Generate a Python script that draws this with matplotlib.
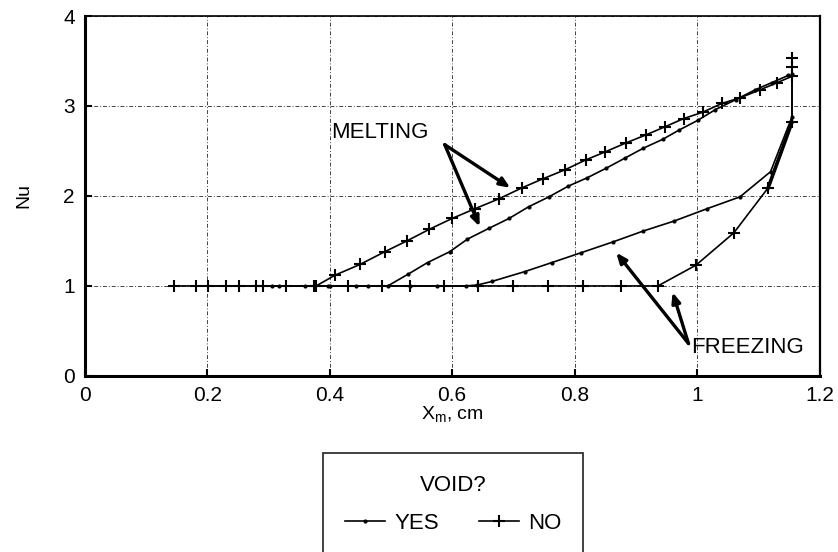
import matplotlib
matplotlib.use("Agg")
import matplotlib.pyplot as plt
from matplotlib.lines import Line2D

plt.rcParams['font.family'] = ['Liberation Sans', 'DejaVu Sans']

# ---- data ----
melt_no_x = [0.146, 0.202, 0.252, 0.291, 0.328, 0.378, 0.409, 0.45, 0.49, 0.526, 0.563, 0.600,
             0.638, 0.677, 0.714, 0.748, 0.784, 0.818, 0.85, 0.884, 0.917, 0.948, 0.978, 1.009,
             1.041, 1.07, 1.103, 1.131, 1.155]
melt_no_y = [1, 1, 1, 1, 1, 1, 1.12, 1.24, 1.38, 1.5, 1.63, 1.75, 1.86, 1.97, 2.09, 2.19, 2.29,
             2.4, 2.49, 2.59, 2.68, 2.77, 2.86, 2.93, 3.03, 3.09, 3.18, 3.26, 3.33]
frz_no_x = [1.155, 1.155, 1.155, 1.116, 1.06, 0.998, 0.936, 0.875, 0.814, 0.756, 0.700, 0.643,
            0.587, 0.531, 0.485, 0.43, 0.374, 0.28, 0.231, 0.182]
frz_no_y = [3.53, 3.43, 2.82, 2.09, 1.59, 1.23, 1.0, 1, 1, 1, 1, 1, 1, 1, 1, 1, 1, 1, 1, 1]

melt_yes_x = [0.306, 0.36, 0.398, 0.443, 0.495, 0.528, 0.56, 0.596, 0.625, 0.66, 0.693, 0.725,
              0.758, 0.79, 0.82, 0.852, 0.882, 0.912, 0.944, 0.97, 1.001, 1.03, 1.063, 1.095,
              1.122, 1.149]
melt_yes_y = [1, 1, 1, 1, 1, 1.13, 1.26, 1.38, 1.52, 1.64, 1.75, 1.88, 1.99, 2.11, 2.2, 2.31,
              2.42, 2.53, 2.63, 2.73, 2.84, 2.96, 3.07, 3.18, 3.26, 3.34]
frz_yes_x = [1.155, 1.155, 1.12, 1.07, 1.017, 0.962, 0.912, 0.863, 0.811, 0.763, 0.719, 0.665,
             0.641, 0.622, 0.576, 0.531, 0.463, 0.40, 0.317]
frz_yes_y = [3.36, 2.88, 2.27, 1.99, 1.86, 1.72, 1.61, 1.49, 1.37, 1.26, 1.16, 1.05, 1.01, 1.0,
             1, 1, 1, 1, 1]

x_ticks = [0, 0.2, 0.4, 0.6, 0.8, 1.0, 1.2]
x_tick_labels = ['0', '0.2', '0.4', '0.6', '0.8', '1', '1.2']
y_ticks = [0, 1, 2, 3, 4]
y_tick_labels = ['0', '1', '2', '3', '4']

# ---- figure ----
fig = plt.figure(figsize=(8.38, 5.52), dpi=100)
ax = fig.add_axes([0.101, 0.319, 0.877, 0.652])

ax.set_xlim(0, 1.2)
ax.set_ylim(0, 4)
ax.set_xticks(x_ticks)
ax.set_xticklabels(x_tick_labels)
ax.set_yticks(y_ticks)
ax.set_yticklabels(y_tick_labels)
ax.tick_params(axis='both', direction='in', length=5, width=1.5, labelsize=15, pad=7)
ax.grid(True, color='#444444', linestyle=(0, (4, 2, 1, 2)), linewidth=0.7)

for s in ['left', 'bottom']:
    ax.spines[s].set_linewidth(2.2)
ax.spines['top'].set_linewidth(1.2)
ax.spines['right'].set_linewidth(1.6)

ax.set_xlabel('X$_\\mathregular{m}$, cm', fontsize=14, labelpad=0)
ax.set_ylabel('Nu', fontsize=14, labelpad=22)

lw = 1.2
ax.plot(melt_yes_x, melt_yes_y, color='black', lw=lw, marker='.', markersize=4)
ax.plot(frz_yes_x, frz_yes_y, color='black', lw=lw, marker='.', markersize=4)
ax.plot(melt_no_x, melt_no_y, color='black', lw=lw, marker='+', markersize=9, mew=1.5)
ax.plot(frz_no_x, frz_no_y, color='black', lw=lw, marker='+', markersize=9, mew=1.5)
# thick segment near right
ax.plot([frz_no_x[2], frz_no_x[3]], [frz_no_y[2], frz_no_y[3]], color='black', lw=2.6)

# annotations
arrow_kw = dict(arrowstyle='-|>,head_length=0.6,head_width=0.25', color='black', lw=2.4,
                shrinkA=0, shrinkB=0)
ax.text(0.403, 2.7, 'MELTING', fontsize=16, va='center', ha='left')
ax.annotate('', xy=(0.695, 2.09), xytext=(0.588, 2.57), arrowprops=arrow_kw)
ax.annotate('', xy=(0.645, 1.66), xytext=(0.588, 2.57), arrowprops=arrow_kw)

ax.text(0.99, 0.32, 'FREEZING', fontsize=16, va='center', ha='left')
ax.annotate('', xy=(0.868, 1.37), xytext=(0.986, 0.36), arrowprops=arrow_kw)
ax.annotate('', xy=(0.960, 0.93), xytext=(0.986, 0.36), arrowprops=arrow_kw)

# legend
handles = [Line2D([], [], color='black', lw=1.2, marker='.', markersize=4),
           Line2D([], [], color='black', lw=1.2, marker='+', markersize=9, mew=1.5)]
leg = fig.legend(handles, ['YES', 'NO'], title='VOID?', ncol=2, loc='upper center',
                 bbox_to_anchor=(0.541, 0.180), frameon=True, fancybox=False,
                 edgecolor='black', fontsize=16, title_fontsize=16, handlelength=1.8,
                 handletextpad=0.4, columnspacing=1.8, borderpad=1.0, labelspacing=0.8,
                 borderaxespad=0)
leg.get_frame().set_linewidth(1.3)
leg._legend_box.sep = 12

fig.savefig('out.png', dpi=100)
